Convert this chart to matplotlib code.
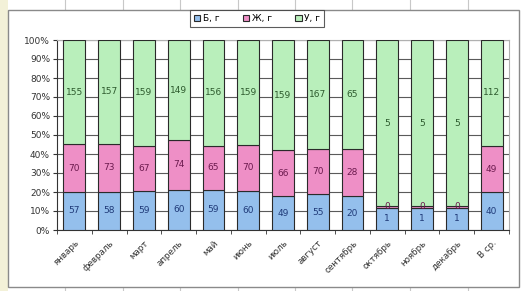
import matplotlib
matplotlib.use("Agg")
import matplotlib.pyplot as plt
import numpy as np
from matplotlib.patches import Rectangle
from matplotlib.lines import Line2D

categories = ["январь", "февраль", "март", "апрель", "май", "июнь", "июль",
              "август", "сентябрь", "октябрь", "ноябрь", "декабрь", "В ср."]
b_vals = [57, 58, 59, 60, 59, 60, 49, 55, 20, 0.7, 0.7, 0.7, 40]
zh_vals = [70, 73, 67, 74, 65, 70, 66, 70, 28, 0.05, 0.05, 0.05, 49]
u_vals = [155, 157, 159, 149, 156, 159, 159, 167, 65, 5.2, 5.2, 5.2, 112]
series_names = ["Б, г", "Ж, г", "У, г"]
y_ticks = [0, 10, 20, 30, 40, 50, 60, 70, 80, 90, 100]

colors = ["#94bfec", "#ee8fc6", "#b9efbb"]
label_colors = ["#1f3a78", "#6b1a4e", "#2d5a2d"]

fig = plt.figure(figsize=(5.22, 2.91), dpi=100)
fig.patch.set_facecolor("white")

# spreadsheet-like surroundings
fig.patches.append(Rectangle((0, 0), 8/522, 1, transform=fig.transFigure,
                             facecolor="#f3f1d8", edgecolor="none", zorder=-3))
for xv in [65, 123, 180, 238, 295, 352, 410, 468]:
    fig.lines.append(Line2D([xv/522, xv/522], [1, 1-10/291], transform=fig.transFigure,
                            color="#c8c8c8", lw=0.8, zorder=-3))
    fig.lines.append(Line2D([xv/522, xv/522], [0, 4/291], transform=fig.transFigure,
                            color="#c8c8c8", lw=0.8, zorder=-3))
fig.patches.append(Rectangle((8/522, 4/291), (519-8)/522, (281-4)/291,
                             transform=fig.transFigure, facecolor="white",
                             edgecolor="#8a8a8a", lw=1.0, zorder=-2))

ax = fig.add_axes([57/522, 1-230/291, (509-57)/522, (230-40)/291])
ax.set_facecolor("white")

data = np.array([b_vals, zh_vals, u_vals], dtype=float)
totals = data.sum(axis=0)
pct = data / totals * 100
x = np.arange(len(categories))
bottom = np.zeros(len(categories))
handles = []
for i in range(3):
    h = ax.bar(x, pct[i], bottom=bottom, width=0.63, color=colors[i],
               edgecolor="#2a2a2a", linewidth=0.8, zorder=3, label=series_names[i])
    handles.append(h)
    for j in range(len(categories)):
        ax.text(x[j], bottom[j] + pct[i][j] / 2, "%.0f" % data[i][j],
                ha="center", va="center", fontsize=6.5, color=label_colors[i], zorder=4)
    bottom += pct[i]

ax.set_xlim(-0.5, len(categories) - 0.5)
ax.set_ylim(0, 100)
ax.set_yticks(y_ticks)
ax.set_yticklabels(["%d%%" % v for v in y_ticks], fontsize=6.5, color="#333333")
ax.yaxis.grid(True, color="#5a5a5a", lw=0.8, zorder=0)
ax.set_axisbelow(True)
ax.set_xticks(x)
ax.set_xticklabels(categories, rotation=45, ha="right", rotation_mode="anchor",
                   fontsize=6.3, color="#333333")
ax.tick_params(axis="x", length=0, pad=6)
ax.set_xticks(np.arange(-0.5, len(categories), 1), minor=True)
ax.tick_params(axis="x", which="minor", length=3, color="#333333", direction="out")
ax.tick_params(axis="y", length=3, color="#333333", direction="out", pad=2)
for s in ["top", "right"]:
    ax.spines[s].set_color("#b0b0b0")
for s in ["left", "bottom"]:
    ax.spines[s].set_color("#333333")

leg = fig.legend(handles=handles, labels=series_names, loc="center",
                 bbox_to_anchor=(257/522, 1-18.5/291), ncol=3, fontsize=6.5,
                 frameon=True, fancybox=False, edgecolor="#333333",
                 handlelength=0.7, handleheight=0.7, columnspacing=2.6,
                 handletextpad=0.3, borderpad=0.4, borderaxespad=0)
leg.get_frame().set_linewidth(0.8)

fig.savefig("out.png", dpi=100)
